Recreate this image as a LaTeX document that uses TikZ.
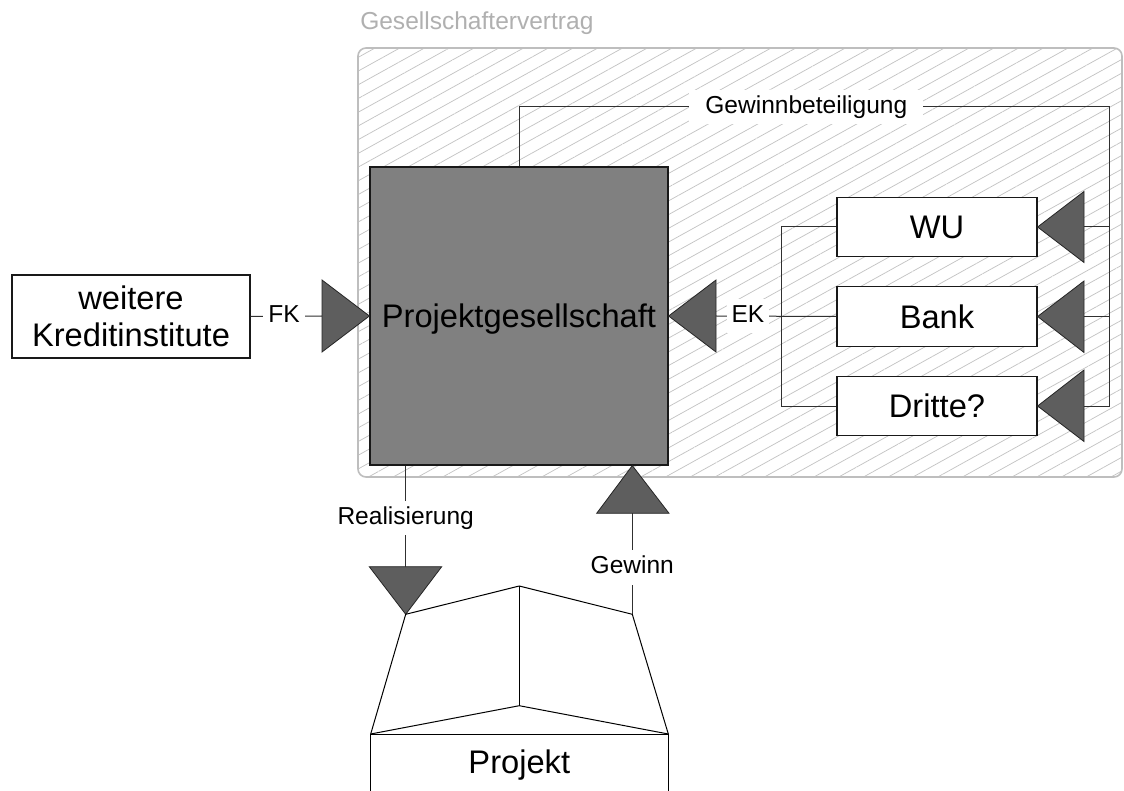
\documentclass[tikz,border=0pt]{standalone}
\usepackage{fontspec}
\setmainfont{Liberation Sans}
\usetikzlibrary{patterns.meta}
\definecolor{frameg}{HTML}{BEBEBE}
\definecolor{hatchg}{HTML}{C4C4C4}
\definecolor{titleg}{HTML}{B0B0B0}
\definecolor{boxg}{HTML}{808080}
\definecolor{trig}{HTML}{5E5E5E}
\definecolor{lineg}{HTML}{303030}
\begin{document}
\begin{tikzpicture}[x=0.75pt,y=-0.75pt,
  bigtxt/.style={font=\fontsize{24.5pt}{28.2pt}\selectfont},
  smalltxt/.style={font=\fontsize{18.4pt}{22pt}\selectfont},
  entity/.style={draw=black!90, line width=0.9pt, fill=white, bigtxt,
    text height=17.5pt, text depth=0pt, inner sep=0pt,
    minimum width=150pt, minimum height=44.5pt},
  tag/.style={smalltxt, fill=white, inner xsep=3.75pt, inner ysep=3.75pt,
    text height=13.8pt, text depth=4.6pt},
  conn/.style={draw=lineg, line width=0.75pt},
  tri/.style={fill=trig, draw=black!85, line width=0.6pt, line join=miter},
  housel/.style={draw=black, line width=0.75pt, line join=miter},
  container/.style={draw=frameg, line width=1.2pt, rounded corners=6pt,
    pattern={Lines[angle=29, distance=9pt, line width=0.55pt]},
    pattern color=hatchg, inner sep=0pt}
]
\useasboundingbox (0,0) rectangle (1124,791);
\fill[white] (0,0) rectangle (1124,791);

% contract frame with hatching
\node[container, minimum width=573pt, minimum height=321.75pt] (gv) at (740,262.5) {};
\node[smalltxt, text=titleg, anchor=base west, inner sep=0pt] (gvt) at (360,30) {Gesellschaftervertrag};

% main entities
\node[draw=black!90, fill=boxg, line width=0.9pt, bigtxt, text height=17.5pt, text depth=0pt,
      inner sep=0pt, minimum width=223.5pt, minimum height=223.5pt] (pg) at (519,316) {Projektgesellschaft};
\node[draw=black!90, line width=0.9pt, fill=white, bigtxt, align=center, inner sep=0pt,
      minimum width=178.5pt, minimum height=62.25pt] (wk) at (131,316.5) {weitere\\Kreditinstitute};
\node[entity] (wu) at (937,227) {WU};
\node[entity] (bank) at (937,316.5) {Bank};
\node[entity] (dr) at (937,406) {Dritte?};

% anchor points of the arrowheads and the loop
\coordinate (fkb) at (322,316);
\coordinate (ekb) at (716,316);
\coordinate (lt) at (519,107);
\coordinate (rt) at (1109,107);
\coordinate (rb) at (1109,406);
\coordinate (r1) at (1109,227);
\coordinate (r2) at (1109,316.5);
\coordinate (t1) at (1084,227);
\coordinate (t2) at (1084,316.5);
\coordinate (t3) at (1084,406);

% house corners
\coordinate (A) at (405.7,614.3);
\coordinate (B) at (519.3,586);
\coordinate (C) at (632.3,614.3);
\coordinate (D) at (519.3,705.7);
\coordinate (E) at (370.7,734);
\coordinate (F) at (668.3,734);
\coordinate (Eb) at (370.7,791);
\coordinate (Fb) at (668.3,791);
\coordinate (rtop) at (405.7,566.7);
\coordinate (gbase) at (632.3,513.3);

% FK: further lenders to the project company
\draw[conn] (wk.east) -- node[tag, pos=0.47] (fk) {FK} (fkb);
\draw[tri] (pg.west) -- (322,280) -- (322,352) -- cycle;

% EK: equity from the partners
\draw[conn] (wu.west) -- ++(-55,0) |- (dr.west);
\draw[conn] (bank.west) -- node[tag, pos=0.735] (ek) {EK} (ekb);
\draw[tri] (pg.east) -- (716,280) -- (716,352) -- cycle;

% profit share back to the partners
\draw[conn] (pg.north) -- (lt) -- node[tag, pos=0.487, inner xsep=12pt] (gb) {Gewinnbeteiligung} (rt) -- (rb) -- (t3);
\draw[conn] (r1) -- (t1);
\draw[conn] (r2) -- (t2);
\draw[tri] (wu.east) -- (1084,191.5) -- (1084,262.5) -- cycle;
\draw[tri] (bank.east) -- (1084,281) -- (1084,352.5) -- cycle;
\draw[tri] (dr.east) -- (1084,370) -- (1084,441.5) -- cycle;

% realisation and profit between company and project
\draw[conn] (pg.south -| A) -- node[tag, pos=0.52] (re) {Realisierung} (rtop);
\draw[tri] (A) -- (369.3,566.7) -- (441.7,566.7) -- cycle;
\draw[conn] (C) -- node[tag, pos=0.466] (gw) {Gewinn} (gbase);
\draw[tri] (pg.south -| C) -- (596.7,513.3) -- (669,513.3) -- cycle;

% the project building
\draw[housel] (E) -- (A) -- (B) -- (C) -- (F);
\draw[housel] (B) -- (D);
\draw[housel] (E) -- (D) -- (F);
\draw[housel] (Eb) -- (E) -- (F) -- (Fb);
\node[bigtxt, anchor=base, inner sep=0pt] (pj) at (519.3,773) {Projekt};
\end{tikzpicture}
\end{document}
